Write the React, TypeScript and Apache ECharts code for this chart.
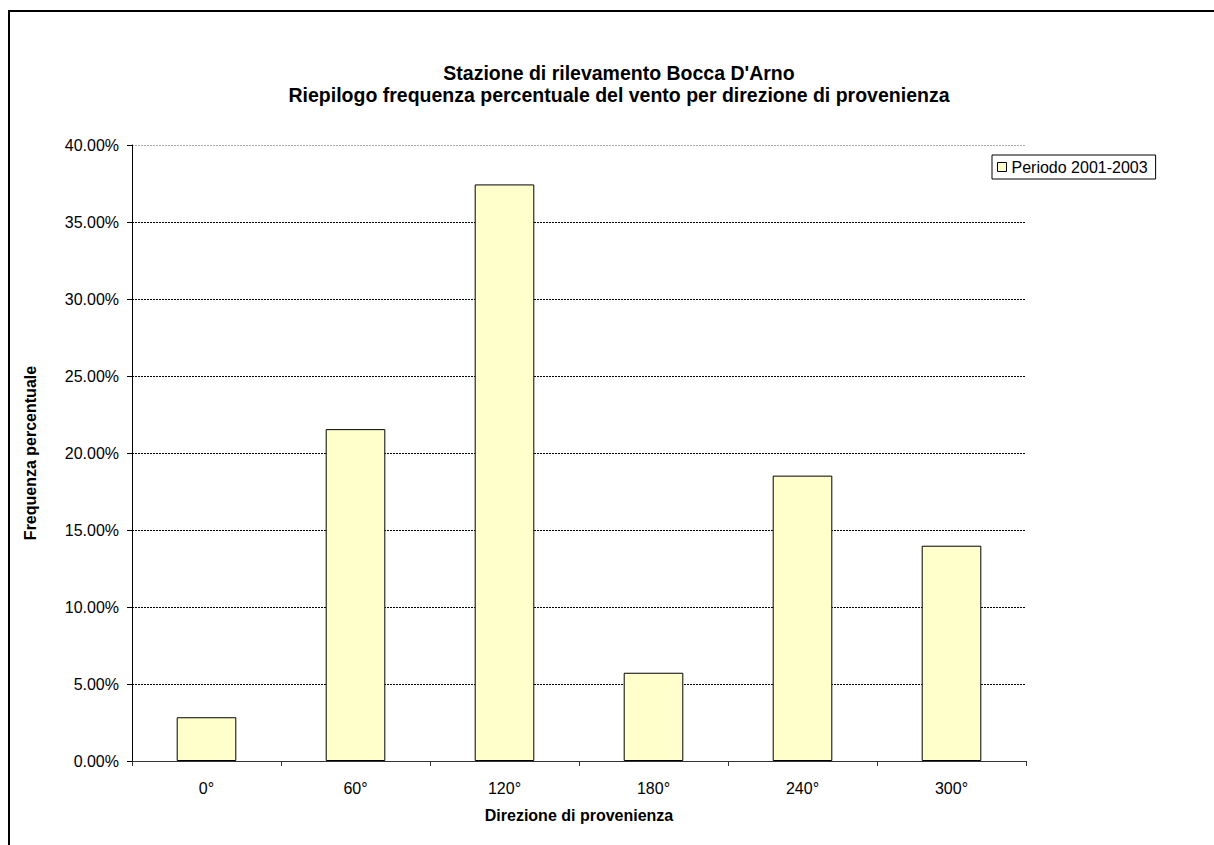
import React, { useEffect, useRef } from "react";
import * as echarts from "echarts";

// Wind direction categories and frequency (%) for the 2001-2003 period
const directions = ["0°", "60°", "120°", "180°", "240°", "300°"];
const frequencies = [2.84, 21.55, 37.44, 5.73, 18.53, 13.98];
const seriesName = "Periodo 2001-2003";
const titleLines = [
  "Stazione di rilevamento Bocca D'Arno",
  "Riepilogo frequenza percentuale del vento per direzione di provenienza",
];
const yAxisTitle = "Frequenza percentuale";
const xAxisTitle = "Direzione di provenienza";

const FONT = "'Liberation Sans', Arial, Helvetica, sans-serif";

export default function App() {
  const ref = useRef<HTMLDivElement>(null);

  useEffect(() => {
    if (!ref.current) return;
    const chart = echarts.init(ref.current, undefined, { renderer: "svg" });
    chart.setOption({
      animation: false,
      backgroundColor: "#ffffff",
      textStyle: { fontFamily: FONT, color: "#000" },
      title: {
        text: titleLines.join("\n"),
        left: 614,
        top: 57,
        textAlign: "center",
        textStyle: {
          fontFamily: FONT,
          fontSize: 19.5,
          fontWeight: "bold",
          color: "#000",
          lineHeight: 22,
        },
      },
      legend: {
        data: [seriesName],
        left: 992,
        top: 155,
        orient: "vertical",
        icon: "rect",
        itemWidth: 9,
        itemHeight: 9,
        itemGap: 0,
        padding: [4, 8, 4, 5],
        borderColor: "#000",
        borderWidth: 1,
        itemStyle: { color: "#FFFFCC", borderColor: "#000", borderWidth: 1 },
        textStyle: { fontFamily: FONT, fontSize: 16, color: "#000", lineHeight: 16 },
      },
      grid: { left: 132, top: 145, right: 188, bottom: 84, containLabel: false },
      xAxis: {
        type: "category",
        data: directions,
        name: xAxisTitle,
        nameLocation: "middle",
        nameGap: 46,
        nameTextStyle: { fontFamily: FONT, fontSize: 16, fontWeight: "bold", color: "#000" },
        axisLine: { lineStyle: { color: "#333", width: 1 } },
        axisTick: { show: true, alignWithLabel: false, length: 5, lineStyle: { color: "#333" } },
        axisLabel: { fontFamily: FONT, fontSize: 16, color: "#000", margin: 19 },
      },
      yAxis: {
        type: "value",
        min: 0,
        max: 40,
        interval: 5,
        name: yAxisTitle,
        nameLocation: "middle",
        nameGap: 94,
        nameTextStyle: { fontFamily: FONT, fontSize: 16, fontWeight: "bold", color: "#000" },
        axisLine: { show: true, lineStyle: { color: "#000", width: 1 } },
        axisTick: { show: true, length: 5, lineStyle: { color: "#000" } },
        axisLabel: {
          fontFamily: FONT,
          fontSize: 16,
          color: "#000",
          margin: 13,
          formatter: (v: number) => v.toFixed(2) + "%",
        },
        splitLine: {
          show: true,
          lineStyle: {
            color: ["#000", "#000", "#000", "#000", "#000", "#000", "#000", "#000", "#aaa"],
            width: 1,
            type: [2, 1],
          },
        },
      },
      series: [
        {
          name: seriesName,
          type: "bar",
          data: frequencies,
          barCategoryGap: "60%",
          itemStyle: { color: "#FFFFCC", borderColor: "#000", borderWidth: 1 },
        },
      ],
      graphic: [
        {
          type: "rect",
          shape: { x: 9, y: 11, width: 1300, height: 1000 },
          style: { fill: "none", stroke: "#000", lineWidth: 2 },
          silent: true,
          z: 100,
        },
      ],
    });
    return () => chart.dispose();
  }, []);

  return (
    <div
      ref={ref}
      style={{ position: "fixed", left: 0, top: 0, width: 1214, height: 845 }}
    />
  );
}
